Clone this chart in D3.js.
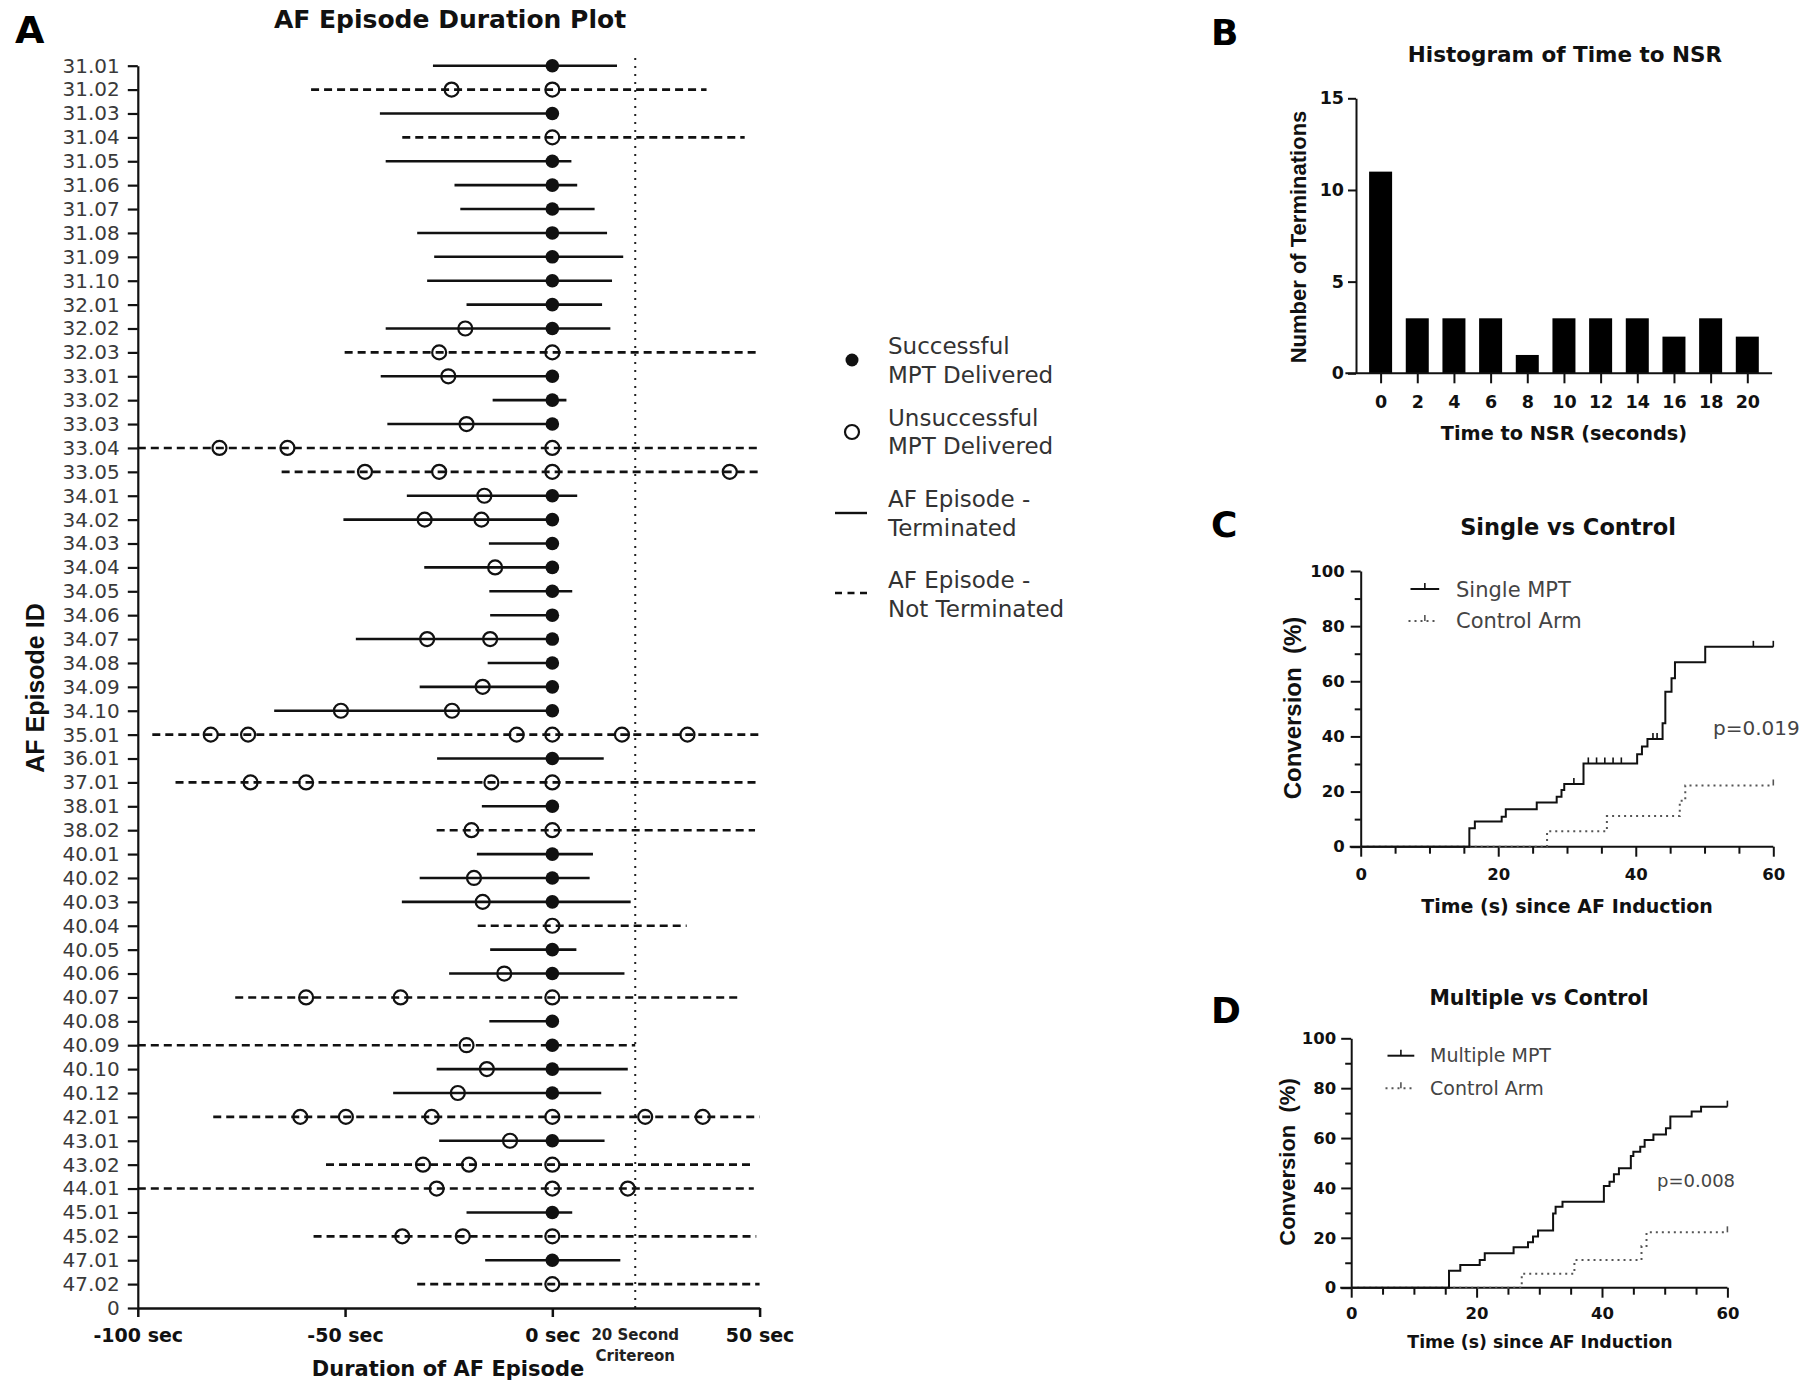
<!DOCTYPE html>
<html><head><meta charset="utf-8">
<script src="https://cdn.jsdelivr.net/npm/d3@7"></script>
<style>
body{margin:0;background:#fff;}
svg{display:block;background:#fff;}
text{font-family:"DejaVu Sans",sans-serif;}
.rot{font-family:"Liberation Sans",Arial,sans-serif;font-weight:bold;white-space:pre;}
</style></head><body>
<svg id="chart" width="1800" height="1395"></svg>
<script>
// ---------- Panel A data ----------
const episodeIds = ["31.01","31.02","31.03","31.04","31.05","31.06","31.07","31.08","31.09","31.10",
  "32.01","32.02","32.03","33.01","33.02","33.03","33.04","33.05",
  "34.01","34.02","34.03","34.04","34.05","34.06","34.07","34.08","34.09","34.10",
  "35.01","36.01","37.01","38.01","38.02",
  "40.01","40.02","40.03","40.04","40.05","40.06","40.07","40.08","40.09","40.10","40.12",
  "42.01","43.01","43.02","44.01","45.01","45.02","47.01","47.02"];
const bottomTickLabel = "0";
const episodeStart = [-28.8,-58.2,-41.6,-36.2,-40.2,-23.6,-22.2,-32.6,-28.5,-30.2,
  -20.7,-40.2,-50.1,-41.4,-14.4,-39.8,-100,-65.3,
  -35.1,-50.4,-15.3,-30.9,-15.2,-15.0,-47.4,-15.6,-32.0,-67.1,
  -96.5,-27.8,-90.9,-17.0,-27.9,
  -18.2,-32.0,-36.3,-18.0,-15.0,-24.9,-76.5,-15.2,-100,-27.9,-38.4,
  -81.8,-27.3,-54.6,-100,-20.7,-57.6,-16.2,-32.6];
const episodeEnd = [15.6,37.2,0,46.4,4.6,6.0,10.2,13.2,17.1,14.4,
  12.0,14.0,49.8,0,3.4,0,50,50,
  6.0,0,0,0,4.8,0,0,0,0,0,
  50,12.4,50,0,48.9,
  9.8,9.0,18.9,32.4,5.8,17.4,45.0,0,20.0,18.2,11.8,
  50,12.6,48.6,48.6,4.8,49.2,16.4,50];
const episodeTerminated = [true,false,true,false,true,true,true,true,true,true,
  true,true,false,true,true,true,false,false,
  true,true,true,true,true,true,true,true,true,true,
  false,true,false,true,false,
  true,true,true,false,true,true,false,true,false,true,true,
  false,true,false,false,true,false,true,false];
const successfulMpt = [[0],[],[0],[],[0],[0],[0],[0],[0],[0],
  [0],[0],[],[0],[0],[0],[],[],
  [0],[0],[0],[0],[0],[0],[0],[0],[0],[0],
  [],[0],[],[0],[],
  [0],[0],[0],[],[0],[0],[],[0],[0],[0],[0],
  [],[0],[],[],[0],[],[0],[]];
const unsuccessfulMpt = [[],[-24.3,0],[],[0],[],[],[],[],[],[],
  [],[-21.0],[-27.3,0],[-25.1],[],[-20.7],[-80.3,-63.9,0],[-45.2,-27.3,0,42.8],
  [-16.4],[-30.8,-17.1],[],[-13.8],[],[],[-30.2,-15.0],[],[-16.8],[-51.0,-24.2],
  [-82.4,-73.4,-8.6,0,16.8,32.6],[],[-72.8,-59.4,-14.7,0],[],[-19.5,0],
  [],[-18.9],[-16.8],[0],[],[-11.6],[-59.4,-36.6,0],[],[-20.7],[-15.8],[-22.8],
  [-60.8,-49.8,-29.1,0,22.4,36.3],[-10.2],[-31.2,-20.1,0],[-27.9,0,18.2],[],[-36.2,-21.6,0],[],[0]];
const xTicksA = [-100,-50,0,50];
const criterionSec = 20;

// ---------- Panel B data ----------
const histBins = [0,2,4,6,8,10,12,14,16,18,20];
const histCounts = [11,3,3,3,1,3,3,3,2,3,2];
const histYTicks = [0,5,10,15];

// ---------- Panel C data ----------
const cSingleTime = [0,15.8,16.6,20.5,21.1,25.6,28.5,29.2,29.6,32.4,40.2,40.9,41.7,43.9,44.3,45.2,45.7,50.1,60];
const cSinglePct  = [0,6.7,9.1,10.9,13.6,16.0,18.1,20.6,22.7,30.2,33.5,36.3,39.1,44.8,56.2,61.1,66.9,72.5,72.5];
const cSingleCensor = [31.0,33.1,34.3,35.5,36.7,37.9,42.5,43.1,57.1,60];
const cControlTime = [0,27.1,35.8,46.4,47.2,60];
const cControlPct  = [0,5.6,11.1,16.7,22.2,22.2];
const cControlCensor = [60];

// ---------- Panel D data ----------
const dMultiTime = [0,15.6,17.4,20.5,21.3,25.9,28.2,29.0,29.8,32.2,32.6,33.7,40.3,41.2,41.9,42.7,44.6,45.0,46.1,46.8,48.2,50.2,50.9,54.3,55.8,60];
const dMultiPct  = [0,6.8,9.1,11.1,13.8,16.2,18.2,20.5,22.9,29.8,32.5,34.5,40.8,42.5,45.5,47.9,52.8,54.5,56.5,59.2,61.4,63.9,68.6,70.6,72.6,72.6];
const dMultiCensor = [60];
const dControlTime = [0,27.2,35.6,46.3,47.1,60];
const dControlPct  = [0,5.6,11.1,16.7,22.2,22.2];
const dControlCensor = [60];

const kmYMajor = [0,20,40,60,80,100];
const kmYMinor = [10,30,50,70,90];
const kmXMajor = [0,20,40,60];
const kmXMinor = [5,10,15,25,30,35,45,50,55];

const svg = d3.select("#chart");

function txt(g, x, y, s, size, opts={}) {
  const t = g.append("text").attr("x", x).attr("y", y).text(s)
    .attr("font-size", size)
    .attr("font-weight", opts.bold ? "bold" : "normal")
    .attr("fill", opts.fill || "#000")
    .attr("text-anchor", opts.anchor || "start");
  return t;
}
function rotTxt(g, x, y, s, size) {
  g.append("text").attr("class","rot")
    .attr("transform", `translate(${x},${y}) rotate(-90)`)
    .attr("text-anchor","middle").attr("font-size", size).attr("fill","#111").text(s);
}

// ================= Panel A =================
const gA = svg.append("g");
const xA = d3.scaleLinear().domain([-100, 50]).range([137.8, 759.6]);
const yA = d3.scalePoint().domain(episodeIds.concat([bottomTickLabel])).range([65.7, 1308]);

txt(gA, 15, 43, "A", 38, {bold:true});
txt(gA, 450, 28, "AF Episode Duration Plot", 25, {bold:true, anchor:"middle", fill:"#111"});

// criterion line
gA.append("line").attr("x1", xA(criterionSec)).attr("x2", xA(criterionSec))
  .attr("y1", 58).attr("y2", yA(bottomTickLabel))
  .attr("stroke", "#222").attr("stroke-width", 2).attr("stroke-dasharray", "2,6");

// axes
const axA_y = gA.append("g").attr("transform", `translate(${xA(-100)},0)`)
  .call(d3.axisLeft(yA).tickSize(10).tickPadding(8).tickSizeOuter(0));
axA_y.selectAll("text").attr("font-size", 20).attr("fill", "#3a3a3a").attr("font-family","DejaVu Sans");
axA_y.selectAll("line,path").attr("stroke", "#111").attr("stroke-width", 2.2);

const axA_x = gA.append("g").attr("transform", `translate(0,${yA(bottomTickLabel)})`)
  .call(d3.axisBottom(xA).tickValues(xTicksA).tickFormat(d => d + " sec").tickSize(9).tickPadding(12).tickSizeOuter(0));
axA_x.selectAll("text").attr("font-size", 19).attr("font-weight", "bold").attr("fill", "#111").attr("font-family","DejaVu Sans");
axA_x.selectAll("line,path").attr("stroke", "#111").attr("stroke-width", 2.5);

txt(gA, xA(criterionSec), 1340, "20 Second", 15, {bold:true, anchor:"middle", fill:"#222"});
txt(gA, xA(criterionSec), 1361, "Critereon", 15, {bold:true, anchor:"middle", fill:"#222"});
txt(gA, 448, 1376, "Duration of AF Episode", 21, {bold:true, anchor:"middle", fill:"#111"});
rotTxt(gA, 44, 688, "AF Episode ID", 25);

// rows
const rows = episodeIds.map((id, i) => ({id, s: episodeStart[i], e: episodeEnd[i], term: episodeTerminated[i],
  ok: successfulMpt[i], bad: unsuccessfulMpt[i]}));
gA.append("g").selectAll("line").data(rows).join("line")
  .attr("x1", d => xA(d.s)).attr("x2", d => xA(d.e))
  .attr("y1", d => yA(d.id)).attr("y2", d => yA(d.id))
  .attr("stroke", "#111").attr("stroke-width", 2.6)
  .attr("stroke-dasharray", d => d.term ? null : "8,5");
gA.append("g").selectAll("circle")
  .data(rows.flatMap(d => d.bad.map(v => ({id: d.id, v}))))
  .join("circle").attr("cx", d => xA(d.v)).attr("cy", d => yA(d.id)).attr("r", 7)
  .attr("fill", "none").attr("stroke", "#111").attr("stroke-width", 2.2);
gA.append("g").selectAll("circle")
  .data(rows.flatMap(d => d.ok.map(v => ({id: d.id, v}))))
  .join("circle").attr("cx", d => xA(d.v)).attr("cy", d => yA(d.id)).attr("r", 6.8)
  .attr("fill", "#111");

// legend A
const lg = svg.append("g");
lg.append("circle").attr("cx", 852).attr("cy", 360).attr("r", 6.5).attr("fill", "#111");
lg.append("circle").attr("cx", 852).attr("cy", 432).attr("r", 7).attr("fill", "none").attr("stroke", "#111").attr("stroke-width", 2.2);
lg.append("line").attr("x1", 835).attr("x2", 867).attr("y1", 513).attr("y2", 513).attr("stroke", "#111").attr("stroke-width", 2.4);
lg.append("line").attr("x1", 835).attr("x2", 867).attr("y1", 593).attr("y2", 593).attr("stroke", "#111").attr("stroke-width", 2.4).attr("stroke-dasharray", "7,5.5");
const legLines = [["Successful",354],["MPT Delivered",383],["Unsuccessful",426],["MPT Delivered",454],
  ["AF Episode -",507],["Terminated",536],["AF Episode -",588],["Not Terminated",617]];
legLines.forEach(([s, y]) => txt(lg, 888, y, s, 23, {fill:"#333"}));

// ================= Panel B =================
const gB = svg.append("g");
const xB = d3.scaleLinear().domain([0, 20]).range([1380.6, 1747.3]);
const yB = d3.scaleLinear().domain([0, 15]).range([373.3, 98.3]);
txt(gB, 1211, 45, "B", 36, {bold:true});
txt(gB, 1565, 62, "Histogram of Time to NSR", 21.5, {bold:true, anchor:"middle", fill:"#111"});
gB.append("g").selectAll("rect").data(histBins.map((b, i) => ({b, c: histCounts[i]}))).join("rect")
  .attr("x", d => xB(d.b) - 11.5).attr("width", 23)
  .attr("y", d => yB(d.c)).attr("height", d => yB(0) - yB(d.c)).attr("fill", "#000");
const axB_y = gB.append("g").attr("transform", "translate(1356,0)")
  .call(d3.axisLeft(yB).tickValues(histYTicks).tickSize(8).tickPadding(4).tickSizeOuter(0));
const axB_x = gB.append("g").attr("transform", `translate(0,${yB(0)})`)
  .call(d3.axisBottom(xB).tickValues(histBins).tickSize(10).tickPadding(12));
axB_x.select(".domain").remove();
gB.append("line").attr("x1", 1345.4).attr("x2", 1772.1).attr("y1", yB(0)).attr("y2", yB(0)).attr("stroke", "#111").attr("stroke-width", 2);
[axB_y, axB_x].forEach(a => {
  a.selectAll("text").attr("font-size", 17.5).attr("font-weight", "bold").attr("fill", "#111").attr("font-family","DejaVu Sans");
  a.selectAll("line,path").attr("stroke", "#111").attr("stroke-width", 2);
});
txt(gB, 1564, 440, "Time to NSR (seconds)", 19.3, {bold:true, anchor:"middle", fill:"#111"});
rotTxt(gB, 1306, 237, "Number of Terminations", 22);

// ================= KM panels =================
function kmPanel(cfg) {
  const g = svg.append("g");
  const x = d3.scaleLinear().domain([0, 60]).range(cfg.xr);
  const y = d3.scaleLinear().domain([0, 100]).range(cfg.yr);
  txt(g, 1211, cfg.letterY, cfg.letter, 36, {bold:true});
  txt(g, cfg.titleX, cfg.titleY, cfg.title, cfg.titleSize, {bold:true, anchor:"middle", fill:"#111"});
  const ay = g.append("g").attr("transform", `translate(${cfg.xr[0]},0)`)
    .call(d3.axisLeft(y).tickValues(kmYMajor).tickSize(10).tickPadding(cfg.yPad).tickSizeOuter(0));
  const ayMinor = g.append("g").attr("transform", `translate(${cfg.xr[0]},0)`)
    .call(d3.axisLeft(y).tickValues(kmYMinor).tickSize(6).tickFormat(""));
  ayMinor.select(".domain").remove();
  const ax = g.append("g").attr("transform", `translate(0,${cfg.yr[0]})`)
    .call(d3.axisBottom(x).tickValues(kmXMajor).tickSize(10).tickPadding(cfg.xPad));
  const axMinor = g.append("g").attr("transform", `translate(0,${cfg.yr[0]})`)
    .call(d3.axisBottom(x).tickValues(kmXMinor).tickSize(7).tickFormat(""));
  ax.select(".domain").remove(); axMinor.select(".domain").remove();
  g.append("line").attr("x1", cfg.xr[0] - 11).attr("x2", cfg.xr[1]).attr("y1", cfg.yr[0]).attr("y2", cfg.yr[0])
    .attr("stroke", "#111").attr("stroke-width", 2);
  [ay, ayMinor, ax, axMinor].forEach(a => {
    a.selectAll("text").attr("font-size", 16.5).attr("font-weight", "bold").attr("fill", "#111").attr("font-family","DejaVu Sans");
    a.selectAll("line,path").attr("stroke", "#111").attr("stroke-width", 2);
  });
  txt(g, cfg.xtX, cfg.xtY, "Time (s) since AF Induction", cfg.xtSize, {bold:true, anchor:"middle", fill:"#111"});
  rotTxt(g, cfg.ytX, cfg.ytY, "Conversion  (%)", cfg.ytSize);

  const line = d3.line().x(d => x(d[0])).y(d => y(d[1])).curve(d3.curveStepAfter);
  const series = [
    {t: cfg.ctrlT, p: cfg.ctrlP, c: cfg.ctrlC, color: "#555", dash: "2,4"},
    {t: cfg.mainT, p: cfg.mainP, c: cfg.mainC, color: "#111", dash: null}
  ];
  series.forEach(s => {
    const pts = s.t.map((t, i) => [t, s.p[i]]);
    g.append("path").attr("d", line(pts)).attr("fill", "none").attr("stroke", s.color)
      .attr("stroke-width", 2).attr("stroke-dasharray", s.dash);
    const lvl = tt => { let v = 0; s.t.forEach((t, i) => { if (t <= tt) v = s.p[i]; }); return v; };
    g.append("g").selectAll("line").data(s.c).join("line")
      .attr("x1", d => x(d)).attr("x2", d => x(d))
      .attr("y1", d => y(lvl(d))).attr("y2", d => y(lvl(d)) - 6)
      .attr("stroke", s.color).attr("stroke-width", 1.6);
  });
  // legend
  const L = cfg.leg;
  g.append("line").attr("x1", L.x1).attr("x2", L.x2).attr("y1", L.y1).attr("y2", L.y1).attr("stroke", "#111").attr("stroke-width", 2);
  g.append("line").attr("x1", (L.x1 + L.x2) / 2).attr("x2", (L.x1 + L.x2) / 2).attr("y1", L.y1).attr("y2", L.y1 - 6).attr("stroke", "#111").attr("stroke-width", 1.6);
  g.append("line").attr("x1", L.x1 - 2).attr("x2", L.x2 - 2).attr("y1", L.y2).attr("y2", L.y2).attr("stroke", "#555").attr("stroke-width", 2).attr("stroke-dasharray", "2,4");
  g.append("line").attr("x1", (L.x1 + L.x2) / 2).attr("x2", (L.x1 + L.x2) / 2).attr("y1", L.y2).attr("y2", L.y2 - 6).attr("stroke", "#555").attr("stroke-width", 1.6);
  txt(g, L.tx, L.ty1, cfg.mainName, L.size, {fill:"#444"});
  txt(g, L.tx, L.ty2, "Control Arm", L.size, {fill:"#444"});
  txt(g, cfg.pX, cfg.pY, cfg.pText, cfg.pSize, {fill:"#444"});
}

kmPanel({
  letter: "C", letterY: 537, title: "Single vs Control", titleX: 1568, titleY: 535, titleSize: 22.5,
  xr: [1360.7, 1773.3], yr: [846.7, 571], yPad: 6, xPad: 12,
  xtX: 1567, xtY: 913, xtSize: 19, ytX: 1301, ytY: 708, ytSize: 24,
  mainT: cSingleTime, mainP: cSinglePct, mainC: cSingleCensor,
  ctrlT: cControlTime, ctrlP: cControlPct, ctrlC: cControlCensor,
  mainName: "Single MPT",
  leg: {x1: 1410.5, x2: 1439.2, y1: 589, y2: 621, tx: 1456, ty1: 597, ty2: 628, size: 21},
  pX: 1713, pY: 735, pText: "p=0.019", pSize: 20
});
kmPanel({
  letter: "D", letterY: 1023, title: "Multiple vs Control", titleX: 1539, titleY: 1005, titleSize: 20.5,
  xr: [1351.2, 1727.4], yr: [1287.7, 1038.3], yPad: 5, xPad: 10,
  xtX: 1540, xtY: 1348, xtSize: 17.3, ytX: 1295, ytY: 1162, ytSize: 22,
  mainT: dMultiTime, mainP: dMultiPct, mainC: dMultiCensor,
  ctrlT: dControlTime, ctrlP: dControlPct, ctrlC: dControlCensor,
  mainName: "Multiple MPT",
  leg: {x1: 1387.5, x2: 1414.3, y1: 1055.7, y2: 1088.3, tx: 1430, ty1: 1062, ty2: 1095, size: 19},
  pX: 1657, pY: 1187, pText: "p=0.008", pSize: 18
});
</script>
</body></html>
